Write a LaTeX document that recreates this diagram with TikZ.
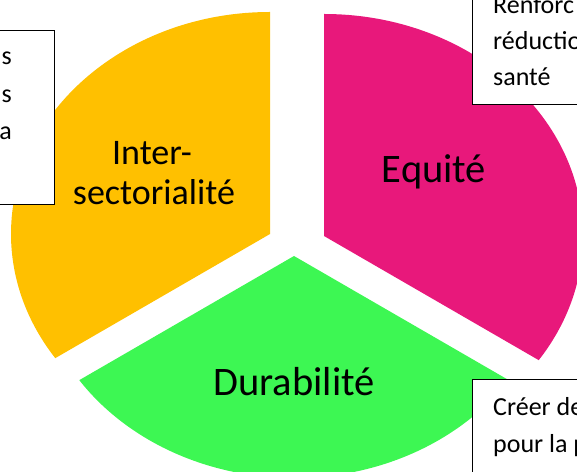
\documentclass[tikz,border=0pt]{standalone}
\usepackage{fontspec}
\setmainfont{Carlito}
\usetikzlibrary{positioning}
\definecolor{goldfill}{HTML}{FFC000}
\definecolor{pinkfill}{HTML}{E8187B}
\definecolor{greenfill}{HTML}{3DF753}
\tikzstyle{sectortext}=[inner sep=0pt, font=\fontsize{40.5}{44}\selectfont]
\tikzstyle{notebox}=[draw=black, line width=0.9pt, fill=white, inner sep=0pt]
\tikzstyle{notetext}=[inner sep=0pt, font=\fontsize{26}{36}\selectfont]

\begin{document}
\begin{tikzpicture}[x=1pt, y=1pt]
\useasboundingbox (0,0) rectangle (577,471);
\clip (0,0) rectangle (577,471);

\fill[goldfill] (270,237) -- ++(0,222) arc[start angle=90, end angle=214, x radius=259pt, y radius=222pt] -- cycle;
\fill[pinkfill] (324,235) -- ++(0,222) arc[start angle=90, end angle=-34, x radius=259pt, y radius=222pt] -- cycle;
\fill[greenfill] (294,215) -- ++(214:259pt and 222pt) arc[start angle=214, end angle=326, x radius=259pt, y radius=222pt] -- cycle;

\node[sectortext, anchor=base, font=\fontsize{36}{40}\selectfont] (inter) at (152,306) {Inter-};
\node[sectortext, anchor=base, font=\fontsize{36}{40}\selectfont] (secto) at (154,266) {sectorialité};
\node[sectortext, anchor=base] (equite) at (434,288) {Equité};
\node[sectortext, anchor=base] (durab) at (294,76) {Durabilité};

\node[notebox, anchor=north east, minimum width=120pt, minimum height=174pt] (leftnote) at (55,441) {};
\node[notetext, anchor=base east] (leftone) at (12,406) {s};
\node[notetext, anchor=base east] (lefttwo) at (12,368) {s};
\node[notetext, anchor=base east] (leftthree) at (12,331) {a};

\node[notebox, anchor=south west, minimum width=150pt, minimum height=140pt] (topnote) at (472,366) {};
\node[notetext, anchor=base west] (topone) at (493,457) {Renforc};
\node[notetext, anchor=base west] (toptwo) at (493,421) {réductio};
\node[notetext, anchor=base west] (topthree) at (493,385) {santé};

\node[notebox, anchor=north west, minimum width=150pt, minimum height=120pt] (bottomnote) at (472,92) {};
\node[notetext, anchor=base west] (bottomone) at (493,56) {Créer de};
\node[notetext, anchor=base west] (bottomtwo) at (493,19) {pour la p};

\end{tikzpicture}
\end{document}
